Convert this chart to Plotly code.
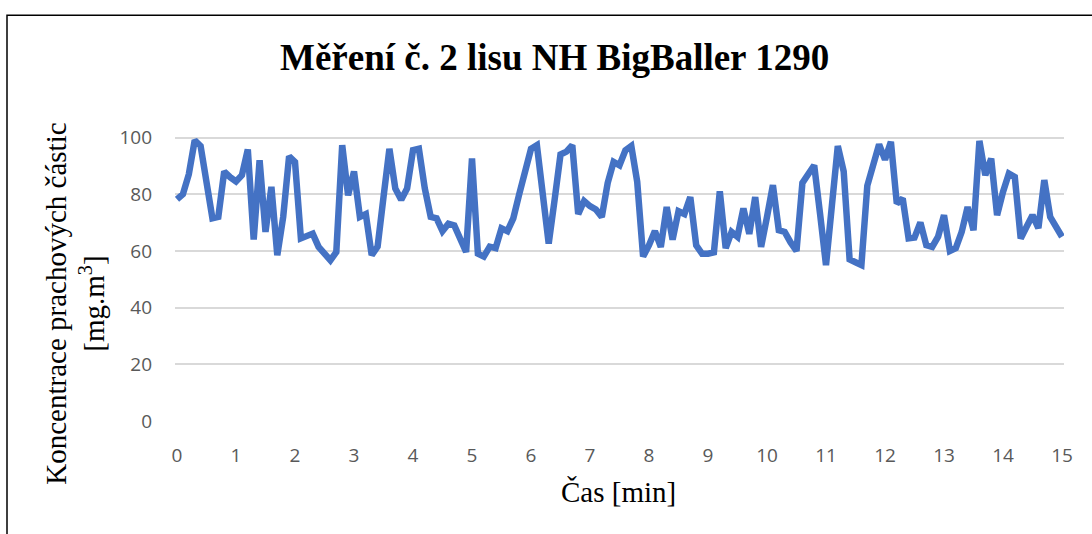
import plotly.graph_objects as go

time_min = [round(i * 0.1, 1) for i in range(151)]
concentration = [
    78.2, 80.0, 87.0, 99.0, 97.0, 84.0, 71.5, 72.0, 88.0, 86.0,
    84.5, 86.7, 95.8, 64.0, 92.0, 66.7, 82.6, 58.5, 72.0, 93.4,
    91.4, 64.4, 65.5, 66.1, 61.4, 59.0, 56.7, 59.6, 97.3, 79.6,
    88.0, 72.0, 73.0, 58.5, 61.5, 79.0, 96.0, 82.0, 78.0, 82.0,
    95.5, 96.0, 82.0, 72.0, 71.5, 67.0, 69.6, 69.0, 64.0, 59.6,
    92.6, 59.0, 58.0, 61.5, 61.0, 68.0, 67.0, 71.5, 80.0, 88.0,
    96.0, 97.3, 80.0, 62.6, 78.0, 94.0, 95.0, 97.3, 73.0, 77.6,
    75.8, 74.6, 72.0, 84.0, 91.4, 90.2, 95.5, 97.0, 84.4, 58.0,
    62.0, 67.0, 61.4, 75.5, 64.0, 74.0, 73.0, 79.0, 62.0, 59.0,
    59.0, 59.5, 81.0, 61.0, 66.7, 65.0, 75.0, 66.0, 79.0, 61.4,
    72.0, 83.2, 67.3, 66.7, 63.0, 60.0, 84.0, 87.0, 90.2, 73.0,
    55.0, 76.0, 97.0, 88.0, 57.0, 56.0, 55.0, 83.0, 90.8, 97.6,
    92.2, 98.5, 76.7, 78.5, 64.4, 64.7, 70.0, 62.0, 61.4, 65.0,
    72.6, 60.0, 61.0, 66.7, 75.5, 67.3, 98.8, 86.7, 92.6, 72.6,
    80.8, 87.3, 86.1, 64.4, 68.5, 72.6, 68.0, 85.0, 72.0, 68.0,
    65.0,
]
x_ticks = list(range(0, 16))
y_ticks = [0, 20, 40, 60, 80, 100]

title_text = "Měření č. 2 lisu NH BigBaller 1290"
x_title = "Čas [min]"
y_title = "Koncentrace prachových částic<br>[mg.m<sup>3</sup>]"

W, H = 1092, 534
ML, MR, MT, MB = 175, 28, 128.5, 113
PW = W - ML - MR
PH = H - MT - MB


def px_x(px):
    return (px - ML) / PW


def px_y(py):
    return (H - MB - py) / PH


fig = go.Figure()
fig.add_trace(go.Scatter(
    x=time_min, y=concentration, mode="lines",
    line=dict(color="#4472C4", width=6.5),
    hoverinfo="x+y", showlegend=False,
))

serif = "Liberation Serif, Times New Roman, serif"
sans = "Open Sans, Liberation Sans, Arial, sans-serif"

fig.update_layout(
    width=W, height=H,
    margin=dict(l=ML, r=MR, t=MT, b=MB, pad=0),
    paper_bgcolor="white", plot_bgcolor="white",
    showlegend=False,
    xaxis=dict(
        range=[-0.034, 15.034], tickmode="array", tickvals=x_ticks,
        ticktext=[str(t) for t in x_ticks], showgrid=False, zeroline=False,
        showline=False, ticks="", ticklabelstandoff=21,
        tickfont=dict(family=sans, size=19, color="#595959"),
    ),
    yaxis=dict(
        range=[0, 103], tickmode="array", tickvals=y_ticks,
        ticktext=[str(t) for t in y_ticks], showgrid=True,
        gridcolor="#D9D9D9", gridwidth=1.5, zeroline=False, showline=False,
        ticks="", ticklabelstandoff=22,
        tickfont=dict(family=sans, size=19, color="#595959"),
    ),
    annotations=[
        dict(text="<b>" + title_text + "</b>", xref="paper", yref="paper",
             x=px_x(554), y=px_y(57), xanchor="center", yanchor="middle",
             showarrow=False, font=dict(family=serif, size=37, color="black")),
        dict(text=x_title, xref="paper", yref="paper",
             x=px_x(618), y=px_y(492), xanchor="center", yanchor="middle",
             showarrow=False, font=dict(family=serif, size=29, color="black")),
        dict(text=y_title, xref="paper", yref="paper", textangle=-90,
             x=px_x(75.5), y=px_y(304), xanchor="center", yanchor="middle",
             showarrow=False, font=dict(family=serif, size=29, color="black")),
    ],
    shapes=[
        dict(type="rect", xref="paper", yref="paper",
             x0=px_x(7), x1=px_x(1110), y0=px_y(570), y1=px_y(14.5),
             line=dict(color="black", width=1.5), fillcolor="rgba(0,0,0,0)",
             layer="below"),
    ],
)

fig.write_html("out.html")
